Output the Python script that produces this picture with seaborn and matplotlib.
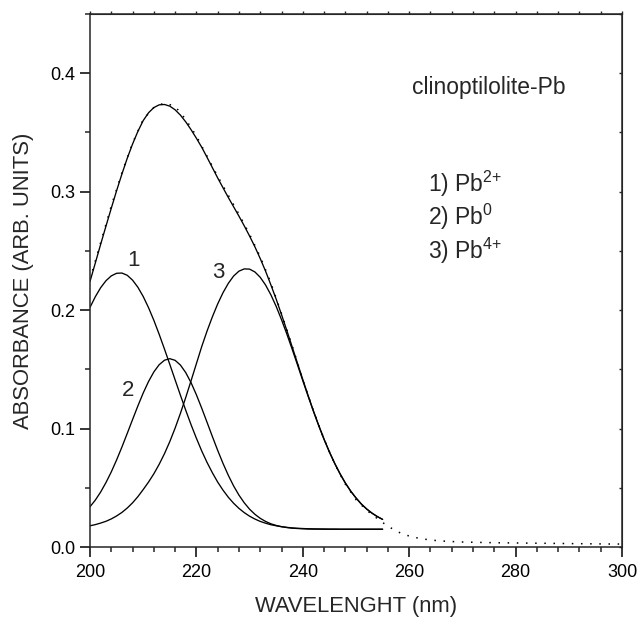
import matplotlib
matplotlib.use("Agg")
import matplotlib.pyplot as plt
import seaborn as sns
from matplotlib.ticker import MultipleLocator, FormatStrFormatter

# wavelengths (nm) of the fitted curves, 200..255
wl_fit = list(range(200, 256))

# component 1) Pb2+
pb2 = [0.2023, 0.2113, 0.2189, 0.2248, 0.2289, 0.2311, 0.2313, 0.2294, 0.2253, 0.2193,
       0.2115, 0.2021, 0.1914, 0.1796, 0.1671, 0.1542, 0.1411, 0.1281, 0.1154, 0.1032,
       0.0918, 0.0811, 0.0714, 0.0627, 0.0548, 0.0480, 0.0420, 0.0369, 0.0326, 0.0290,
       0.0260, 0.0236, 0.0216, 0.0201, 0.0188, 0.0179, 0.0171, 0.0166, 0.0161, 0.0158,
       0.0156, 0.0154, 0.0153, 0.0152, 0.0152, 0.0151, 0.0151, 0.0150, 0.0150, 0.0150,
       0.0150, 0.0150, 0.0150, 0.0150, 0.0150, 0.0150]
# component 2) Pb0
pb0 = [0.0340, 0.0396, 0.0464, 0.0544, 0.0634, 0.0735, 0.0844, 0.0959, 0.1076, 0.1191,
       0.1300, 0.1397, 0.1478, 0.1539, 0.1577, 0.1590, 0.1576, 0.1536, 0.1472, 0.1387,
       0.1285, 0.1172, 0.1053, 0.0933, 0.0816, 0.0706, 0.0605, 0.0515, 0.0438, 0.0373,
       0.0319, 0.0276, 0.0242, 0.0216, 0.0196, 0.0182, 0.0172, 0.0164, 0.0159, 0.0156,
       0.0154, 0.0152, 0.0151, 0.0151, 0.0150, 0.0150, 0.0150, 0.0150, 0.0150, 0.0150,
       0.0150, 0.0150, 0.0150, 0.0150, 0.0150, 0.0150]
# component 3) Pb4+
pb4 = [0.0179, 0.0189, 0.0202, 0.0217, 0.0237, 0.0262, 0.0292, 0.0329, 0.0373, 0.0425,
       0.0485, 0.0548, 0.0618, 0.0698, 0.0788, 0.0890, 0.1004, 0.1129, 0.1263, 0.1404,
       0.1548, 0.1692, 0.1823, 0.1943, 0.2052, 0.2147, 0.2226, 0.2288, 0.2329, 0.2348,
       0.2346, 0.2322, 0.2277, 0.2212, 0.2129, 0.2031, 0.1919, 0.1798, 0.1670, 0.1538,
       0.1404, 0.1273, 0.1145, 0.1023, 0.0908, 0.0802, 0.0705, 0.0618, 0.0540, 0.0472,
       0.0414, 0.0363, 0.0321, 0.0286, 0.0257, 0.0233]
# sum of the fit
fit_sum = [0.2242, 0.2398, 0.2555, 0.2709, 0.2860, 0.3008, 0.3149, 0.3282, 0.3402, 0.3509,
           0.3600, 0.3666, 0.3710, 0.3733, 0.3736, 0.3722, 0.3691, 0.3646, 0.3589, 0.3523,
           0.3451, 0.3375, 0.3290, 0.3203, 0.3116, 0.3033, 0.2951, 0.2872, 0.2793, 0.2711,
           0.2625, 0.2534, 0.2435, 0.2329, 0.2213, 0.2092, 0.1962, 0.1828, 0.1690, 0.1552,
           0.1414, 0.1279, 0.1149, 0.1026, 0.0910, 0.0803, 0.0706, 0.0618, 0.0540, 0.0472,
           0.0414, 0.0363, 0.0321, 0.0286, 0.0257, 0.0233]

# measured spectrum (dotted), 200..300 every 2 nm
wl_exp = list(range(200, 302, 2))
absorb = [0.226, 0.257, 0.288, 0.316, 0.341, 0.361, 0.371, 0.375, 0.372, 0.361,
          0.347, 0.330, 0.313, 0.297, 0.281, 0.264, 0.245, 0.223, 0.197, 0.170,
          0.141, 0.115, 0.091, 0.070, 0.053, 0.040, 0.031, 0.024, 0.0175, 0.0125,
          0.0092, 0.0072, 0.0059, 0.0051, 0.0046, 0.0042, 0.0040, 0.0038, 0.0036, 0.0035,
          0.0034, 0.0033, 0.0032, 0.0031, 0.0030, 0.0029, 0.0028, 0.0027, 0.0026, 0.0025,
          0.0025]

sns.set_style("ticks")
plt.rcParams['font.family'] = ['Liberation Sans', 'DejaVu Sans']
plt.rcParams['mathtext.fontset'] = 'custom'
plt.rcParams['mathtext.rm'] = 'Liberation Sans'
plt.rcParams['mathtext.default'] = 'regular'

fig = plt.figure(figsize=(6.38, 6.18), dpi=100)
ax = fig.add_axes([90 / 638, 71 / 618, 532 / 638, 533 / 618])

lw = 0.95
sns.lineplot(x=wl_exp, y=absorb, color="black", linewidth=1.1,
             linestyle=(0, (1, 5)), ax=ax)
sns.lineplot(x=wl_fit, y=fit_sum, color="black", linewidth=lw, ax=ax)
sns.lineplot(x=wl_fit, y=pb2, color="black", linewidth=lw, ax=ax)
sns.lineplot(x=wl_fit, y=pb0, color="black", linewidth=lw, ax=ax)
sns.lineplot(x=wl_fit, y=pb4, color="black", linewidth=lw, ax=ax)

ax.set_xlim(200, 300)
ax.set_ylim(0, 0.45)
ax.xaxis.set_major_locator(MultipleLocator(20))
ax.xaxis.set_minor_locator(MultipleLocator(4))
ax.yaxis.set_major_locator(MultipleLocator(0.1))
ax.yaxis.set_minor_locator(MultipleLocator(0.05))
ax.yaxis.set_major_formatter(FormatStrFormatter('%.1f'))
ax.tick_params(which='major', direction='out', length=7, width=1.1,
               labelsize=13, colors='black')
ax.tick_params(axis='x', which='major', pad=5.5)
ax.tick_params(which='minor', direction='out', length=3.5, width=1.1)

for s in ax.spines.values():
    s.set_linewidth(1.1)
    s.set_visible(True)

# small ticks on top and right
top = ax.secondary_xaxis('top')
top.xaxis.set_major_locator(MultipleLocator(4))
top.tick_params(direction='out', length=2, width=1, labeltop=False)
right = ax.secondary_yaxis('right')
right.yaxis.set_major_locator(MultipleLocator(0.05))
right.tick_params(direction='in', length=2.5, width=1, labelright=False)

ax.set_xlabel("WAVELENGHT (nm)", fontsize=15.8, labelpad=10.5)
ax.set_ylabel("ABSORBANCE (ARB. UNITS)", fontsize=15.8, labelpad=12)

ax.text(208.1, 0.242, "1", fontsize=16, ha='center', va='center')
ax.text(207.1, 0.1325, "2", fontsize=16, ha='center', va='center')
ax.text(224.1, 0.232, "3", fontsize=16, ha='center', va='center')

ax.text(260.5, 0.3823, "clinoptilolite-Pb", fontsize=16.5, ha='left', va='baseline')
ax.text(263.5, 0.2998, r"1) Pb$^{2{+}}$", fontsize=16.5, ha='left', va='baseline')
ax.text(263.5, 0.2717, r"2) Pb$^{0}$", fontsize=16.5, ha='left', va='baseline')
ax.text(263.5, 0.2436, r"3) Pb$^{4{+}}$", fontsize=16.5, ha='left', va='baseline')

fig.savefig("out.png", dpi=100)
